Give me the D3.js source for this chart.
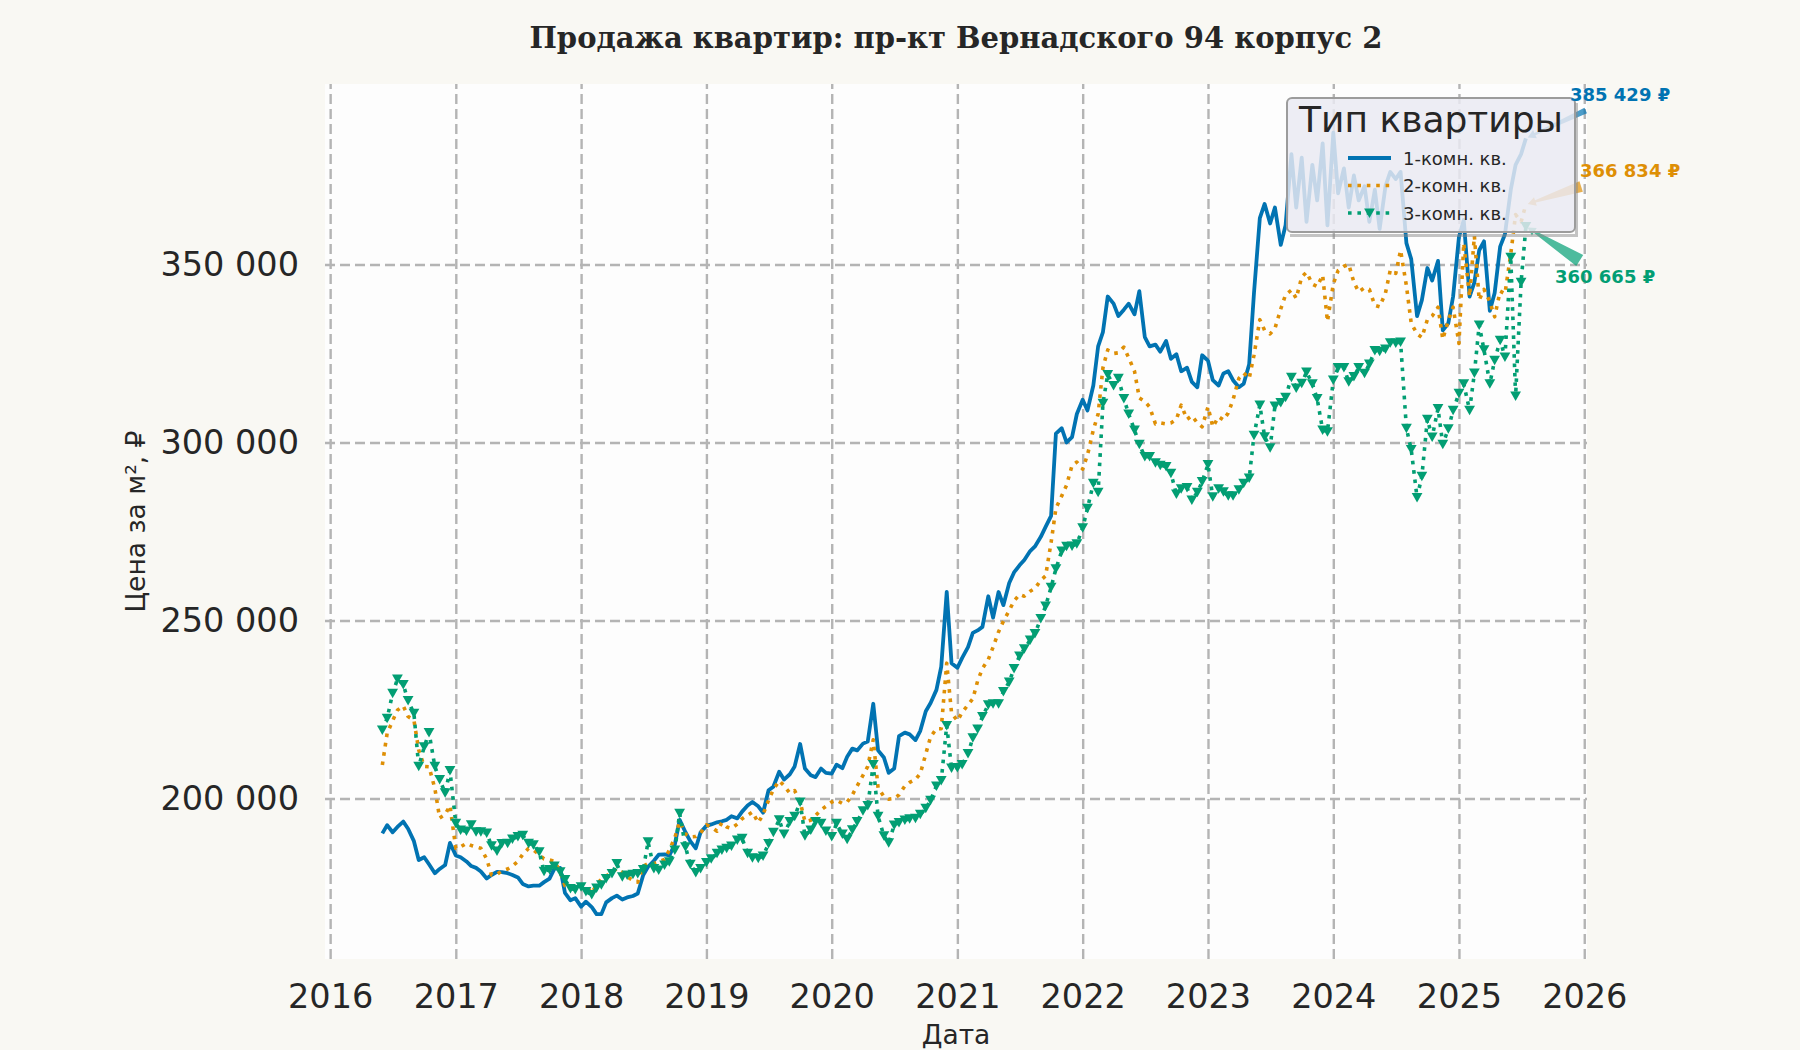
<!DOCTYPE html>
<html>
<head>
<meta charset="utf-8">
<script src="https://cdn.jsdelivr.net/npm/d3@7"></script>
<style>
  html, body { margin: 0; padding: 0; background: #f9f8f3; }
  svg { display: block; font-family: "DejaVu Sans", sans-serif; }
</style>
</head>
<body>
<div id="chart"></div>
<script>
// --- data, prices in thousand ₽ per m² ---

const dates = [
  "2016-06-01","2016-06-15","2016-07-01","2016-07-15","2016-08-01","2016-08-15","2016-09-01","2016-09-15","2016-10-01","2016-10-15","2016-11-01","2016-11-15","2016-12-01","2016-12-15",
  "2017-01-01","2017-01-15","2017-02-01","2017-02-15","2017-03-01","2017-03-15","2017-04-01","2017-04-15","2017-05-01","2017-05-15","2017-06-01","2017-06-15","2017-07-01","2017-07-15","2017-08-01","2017-08-15","2017-09-01","2017-09-15","2017-10-01","2017-10-15","2017-11-01","2017-11-15","2017-12-01","2017-12-15",
  "2018-01-01","2018-01-15","2018-02-01","2018-02-15","2018-03-01","2018-03-15","2018-04-01","2018-04-15","2018-05-01","2018-05-15","2018-06-01","2018-06-15","2018-07-01","2018-07-15","2018-08-01","2018-08-15","2018-09-01","2018-09-15","2018-10-01","2018-10-15","2018-11-01","2018-11-15","2018-12-01","2018-12-15",
  "2019-01-01","2019-01-15","2019-02-01","2019-02-15","2019-03-01","2019-03-15","2019-04-01","2019-04-15","2019-05-01","2019-05-15","2019-06-01","2019-06-15","2019-07-01","2019-07-15","2019-08-01","2019-08-15","2019-09-01","2019-09-15","2019-10-01","2019-10-15","2019-11-01","2019-11-15","2019-12-01","2019-12-15",
  "2020-01-01","2020-01-15","2020-02-01","2020-02-15","2020-03-01","2020-03-15","2020-04-01","2020-04-15","2020-05-01","2020-05-15","2020-06-01","2020-06-15","2020-07-01","2020-07-15","2020-08-01","2020-08-15","2020-09-01","2020-09-15","2020-10-01","2020-10-15","2020-11-01","2020-11-15","2020-12-01","2020-12-15",
  "2021-01-01","2021-01-15","2021-02-01","2021-02-15","2021-03-01","2021-03-15","2021-04-01","2021-04-15","2021-05-01","2021-05-15","2021-06-01","2021-06-15","2021-07-01","2021-07-15","2021-08-01","2021-08-15","2021-09-01","2021-09-15","2021-10-01","2021-10-15","2021-11-01","2021-11-15","2021-12-01","2021-12-15",
  "2022-01-01","2022-01-15","2022-02-01","2022-02-15","2022-03-01","2022-03-15","2022-04-01","2022-04-15","2022-05-01","2022-05-15","2022-06-01","2022-06-15","2022-07-01","2022-07-15","2022-08-01","2022-08-15","2022-09-01","2022-09-15","2022-10-01","2022-10-15","2022-11-01","2022-11-15","2022-12-01","2022-12-15",
  "2023-01-01","2023-01-15","2023-02-01","2023-02-15","2023-03-01","2023-03-15","2023-04-01","2023-04-15","2023-05-01","2023-05-15","2023-06-01","2023-06-15","2023-07-01","2023-07-15","2023-08-01","2023-08-15","2023-09-01","2023-09-15","2023-10-01","2023-10-15","2023-11-01","2023-11-15","2023-12-01","2023-12-15",
  "2024-01-01","2024-01-15","2024-02-01","2024-02-15","2024-03-01","2024-03-15","2024-04-01","2024-04-15","2024-05-01","2024-05-15","2024-06-01","2024-06-15","2024-07-01","2024-07-15","2024-08-01","2024-08-15","2024-09-01","2024-09-15","2024-10-01","2024-10-15","2024-11-01","2024-11-15","2024-12-01","2024-12-15",
  "2025-01-01","2025-01-15","2025-02-01","2025-02-15","2025-03-01","2025-03-15","2025-04-01","2025-04-15","2025-05-01","2025-05-15","2025-06-01","2025-06-15","2025-07-01","2025-07-15"
];

const oneRoomK = [
  190.2, 192.5, 190.5, 192, 193.5, 191.5, 188, 182.7, 183.5, 181.5, 179, 180.2, 181.3, 187.5,
  184, 183.5, 182.3, 181, 180.5, 179.5, 177.5, 178.5, 179.4, 179.3, 179, 178.5, 177.8, 176, 175.3, 175.5, 175.5, 176.5, 177.5, 180.2, 180.5, 173.5, 171.4, 172,
  169.6, 171, 169.5, 167.5, 167.5, 170.8, 172, 172.7, 171.6, 172.2, 172.6, 173.3, 178.5, 180.8, 182.5, 184.2, 184.3, 184, 187, 194, 190.5, 188, 186, 190.5,
  192.3, 192.7, 193.3, 193.6, 194, 195, 194.4, 196.3, 198, 199, 197.8, 196, 202.3, 203.3, 207.5, 205.3, 206.8, 209, 215.3, 208.4, 206.5, 206, 208.4, 207.2,
  207, 209.5, 208.5, 211.7, 214, 213.5, 215.4, 216, 226.6, 213.5, 211.5, 207.2, 208.4, 217.5, 218.5, 218, 216.4, 219, 224.5, 226.8, 230.5, 237, 258, 238,
  236.7, 239.5, 242.5, 246.5, 247.2, 248.2, 256.8, 250.8, 258, 254.3, 260.5, 263.5, 265.5, 267, 269.5, 270.8, 273.5, 276.3, 279.4, 302.5, 304, 300, 301.5, 308,
  312, 309, 316, 327, 331, 341, 339, 335.5, 337.3, 339, 336, 342.5, 329.6, 327, 327.5, 325.5, 328.5, 323.5, 324.8, 320, 321, 317, 315.5, 324.5,
  323, 317.5, 316, 319.4, 320, 317.5, 315.5, 316.5, 322, 342, 363, 367, 361.5, 366, 355.5, 361, 381, 366, 380, 362, 378, 368, 384, 361,
  387, 370, 377, 366, 375, 368, 372, 362, 371, 360, 372, 376, 374, 376, 356, 351.5, 335.5, 340, 349, 345.5, 351, 331.5, 333.5, 341,
  357.7, 362.5, 341, 345, 354, 356.5, 337, 342, 355, 358.5, 371, 378, 381, 385.429
];

const twoRoomK = [
  209.4, 218.3, 221.8, 224.8, 226, 223, 222, 213.6, 209, 208.9, 202.8, 194.5, 195.5, 198,
  186, 186.4, 187.4, 186.8, 186.4, 186, 183, 178.5, 178.7, 179.6, 180.2, 181, 182.3, 184.3, 186, 185.5, 184.2, 183, 182.7, 182.4, 179.5, 175.5, 175.2, 174.8,
  174.7, 175.5, 173.5, 175.7, 177.4, 178.2, 179.3, 180.3, 179.2, 178, 177, 176.5, 181, 181.7, 181.7, 182.2, 182.9, 185.5, 189, 193.5, 190, 189.2, 189.3, 190.3,
  192.6, 192, 190.8, 193.2, 192, 191.6, 192.8, 194.3, 195.3, 196.2, 193.2, 195.5, 199.5, 202.5, 205, 203.6, 201.5, 202.2, 199.1, 193.5, 193.9, 195.2, 196.8, 197.8,
  199, 199.5, 198.6, 199, 201, 203.5, 206.5, 209, 216.5, 203, 200.5, 199.8, 200, 201, 203.5, 204.5, 205.3, 207, 212.5, 217.3, 219.6, 219.6, 238, 224,
  221.8, 224.2, 226.3, 228, 233, 236.5, 239, 242.5, 246.8, 249.8, 252.8, 255.5, 257.3, 256.8, 258.2, 259, 261.3, 262.5, 271.9, 281.5, 285, 288, 293.5, 294.5,
  292.5, 296.5, 303.5, 308, 321, 326, 325, 325.2, 326.8, 323.8, 320, 312.5, 311.5, 310, 305.2, 305.5, 305.2, 305.5, 306.5, 310.5, 306.5, 307.5, 305.5, 304.4,
  310, 304.4, 307.2, 306.3, 308.3, 312, 318, 319.5, 318, 324.5, 334.5, 331.5, 330.5, 332, 337.5, 341.5, 342.8, 340.5, 346.5, 347.8, 344.5, 343.8, 347, 334,
  344.5, 348.3, 349.5, 350, 345, 342.3, 343.5, 343, 338.5, 338.1, 342, 348.4, 347.5, 354, 344, 333.5, 330.5, 329.5, 334.5, 335.5, 338, 329, 334.3, 338,
  327.8, 356, 341, 358, 340, 343, 339.5, 335.3, 342.5, 341.8, 353, 364, 362, 366.834
];

const threeRoomK = [
  219.2, 222.5, 229.5, 233.5, 232, 227.5, 223.9, 209, 214.5, 218.5, 209, 205.3, 201.6, 207.8,
  193, 191.1, 190.8, 192.6, 190.6, 190.6, 190.3, 186.7, 185.2, 187.3, 187.4, 188.6, 189.3, 189.6, 187.4, 187, 185, 179.5, 180, 181, 179.4, 177.2, 174.7, 174.4,
  175.2, 173.8, 173, 174.8, 175.7, 177.5, 178.9, 181.7, 178, 178.5, 178.7, 178.9, 180, 187.8, 180.3, 179.9, 181.3, 182.2, 185.5, 195.8, 186.4, 181.5, 179.2, 180.3,
  182, 183, 184.6, 185.5, 186, 186.6, 188.3, 188.8, 184.6, 183.3, 183.2, 183.8, 187.3, 190.5, 194, 190, 193.5, 195, 199, 189.5, 191.1, 193.5, 193, 190.8,
  189.3, 193, 190, 188.5, 191.2, 193.5, 196.5, 198, 209.5, 195, 189.5, 187.5, 192.5, 193.2, 193.9, 194.3, 194.4, 195.5, 197.2, 199.5, 203.5, 205, 220.5, 208.5,
  208.7, 209.5, 212.6, 217, 219.5, 223, 226.3, 226.6, 226.6, 230, 232.7, 236.5, 240, 242, 244.5, 246.3, 250.5, 254, 259.3, 264.5, 269.5, 270.8, 270.9, 271.5,
  276, 281.5, 288.5, 286, 311, 319.1, 316, 318, 312.3, 308, 303.5, 299.5, 296, 296, 294.3, 293.6, 293.2, 291.3, 285.5, 287, 287.3, 283.8, 286, 289,
  293.8, 284.7, 287, 286.1, 285, 285, 286.7, 288.5, 290, 302, 310.5, 301.6, 298.5, 310.2, 311.2, 312.7, 318.3, 315.3, 316.6, 319.8, 316.5, 312.3, 303.5, 303,
  317.5, 321, 321, 317, 318.5, 321, 319.4, 322, 325.8, 325.6, 326.2, 328, 327.9, 328.2, 304, 298, 284.5, 290.5, 306.5, 301.5, 309.5, 299.5, 303.8, 309,
  313.8, 316.5, 309, 319.5, 333, 326, 316.5, 323.1, 328.7, 324, 352, 313, 345, 360.665
];

const seriesNames = ["1-комн. кв.", "2-комн. кв.", "3-комн. кв."];
const yearTicks = [2016, 2017, 2018, 2019, 2020, 2021, 2022, 2023, 2024, 2025, 2026];
const priceTicks = [200000, 250000, 300000, 350000];

// --- layout ---
const W = 1800, H = 1050;
const plot = { left: 325, right: 1587, top: 84, bottom: 959 };
const colors = ["#0173b2", "#de8f05", "#029e73"];
const textColor = "#262626";

const parseDate = d3.utcParse("%Y-%m-%d");
const xDates = dates.map(parseDate);

const series = [oneRoomK, twoRoomK, threeRoomK].map((vals, i) => ({
  name: seriesNames[i],
  color: colors[i],
  values: vals.map(v => v * 1000)
}));

const svg = d3.select("#chart").append("svg")
    .attr("width", W)
    .attr("height", H);

svg.append("rect").attr("width", W).attr("height", H).attr("fill", "#f9f8f3");

const x = d3.scaleUtc()
    .domain([parseDate("2015-12-17"), parseDate("2026-01-09")])
    .range([plot.left, plot.right]);

const y = d3.scaleLinear()
    .domain([154900, 400700])
    .range([plot.bottom, plot.top]);

const plotW = plot.right - plot.left;
const plotH = plot.bottom - plot.top;

svg.append("rect")
    .attr("x", plot.left).attr("y", plot.top)
    .attr("width", plotW).attr("height", plotH)
    .attr("fill", "#fdfdfd");

const yearDates = yearTicks.map(yr => new Date(Date.UTC(yr, 0, 1)));
const fmtPrice = d3.formatLocale({ decimal: ",", thousands: " ", grouping: [3], currency: ["", ""] }).format(",d");

// grid
const gridX = svg.append("g")
    .attr("transform", `translate(0,${plot.bottom})`)
    .call(d3.axisBottom(x).tickValues(yearDates).tickSize(-plotH).tickFormat(""));
const gridY = svg.append("g")
    .attr("transform", `translate(${plot.left},0)`)
    .call(d3.axisLeft(y).tickValues(priceTicks).tickSize(-plotW).tickFormat(""));
[gridX, gridY].forEach(g => {
  g.select(".domain").remove();
  g.selectAll("line")
      .attr("stroke", "#b4b4b4")
      .attr("stroke-width", 2.4)
      .attr("stroke-dasharray", "10,5");
});

// tick labels
const xAxis = svg.append("g")
    .attr("transform", `translate(0,${plot.bottom})`)
    .call(d3.axisBottom(x).tickValues(yearDates).tickSize(0).tickPadding(25).tickFormat(d3.utcFormat("%Y")));
const yAxis = svg.append("g")
    .attr("transform", `translate(${plot.left},0)`)
    .call(d3.axisLeft(y).tickValues(priceTicks).tickSize(0).tickPadding(26).tickFormat(fmtPrice));
[xAxis, yAxis].forEach(g => {
  g.select(".domain").remove();
  g.selectAll("text")
      .attr("fill", textColor)
      .style("font-family", "'DejaVu Sans', sans-serif")
      .style("font-size", "33.5px");
});

// lines
const line = d3.line()
    .x((d, i) => x(xDates[i]))
    .y(d => y(d));

const lineStyles = [
  { width: 3.8, dash: null },
  { width: 3.6, dash: "3.6,5.8" },
  { width: 3.6, dash: "3.6,5.8" }
];

const triangle = "M-5.4,-4.6L5.4,-4.6L0,4.9Z";

series.forEach((s, i) => {
  svg.append("path")
      .datum(s.values)
      .attr("fill", "none")
      .attr("stroke", s.color)
      .attr("stroke-width", lineStyles[i].width)
      .attr("stroke-linejoin", "round")
      .attr("stroke-dasharray", lineStyles[i].dash)
      .attr("d", line);
  if (i === 2) {
    svg.append("g").selectAll("path")
        .data(s.values)
        .join("path")
        .attr("d", triangle)
        .attr("fill", s.color)
        .attr("transform", (d, j) => `translate(${x(xDates[j])},${y(d)})`);
  }
});

// end-value annotations (text placement, arrows towards the last point)
const lastIdx = dates.length - 1;
const annotPos = [
  { x: 1570, y: 101 },
  { x: 1580, y: 177 },
  { x: 1555, y: 283 }
];
const arrowTail = [6, 11, 13];

const annotLayer = svg.append("g");
const arrowLayer = svg.append("g");

series.forEach((s, i) => {
  const v = s.values[lastIdx];
  const t = annotLayer.append("text")
      .attr("x", annotPos[i].x)
      .attr("y", annotPos[i].y)
      .attr("fill", s.color)
      .style("font-weight", "bold")
      .style("font-size", "18px")
      .text(fmtPrice(Math.round(v)) + " ₽");
  const b = t.node().getBBox();
  const cx = b.x + b.width / 2, cy = b.y + b.height / 2;
  const px = x(xDates[lastIdx]), py = y(v);
  const dx = px - cx, dy = py - cy;
  const L = Math.hypot(dx, dy);
  const ux = dx / L, uy = dy / L;
  const hw = b.width / 2 + 5.5, hh = b.height / 2 + 5.5;
  const s0 = Math.min(Math.abs(ux) > 1e-6 ? hw / Math.abs(ux) : 1e9, Math.abs(uy) > 1e-6 ? hh / Math.abs(uy) : 1e9);
  const s1 = L - 2;
  const nx = -uy, ny = ux;
  const T = [cx + ux * s0, cy + uy * s0];
  const Hd = [cx + ux * s1, cy + uy * s1];
  const M = [Hd[0] - ux * 8, Hd[1] - uy * 8];
  const w = arrowTail[i] / 2;
  const pts = [
    [T[0] + nx * w, T[1] + ny * w],
    [M[0] + nx * 1.2, M[1] + ny * 1.2],
    [M[0] + nx * 4.5, M[1] + ny * 4.5],
    Hd,
    [M[0] - nx * 4.5, M[1] - ny * 4.5],
    [M[0] - nx * 1.2, M[1] - ny * 1.2],
    [T[0] - nx * w, T[1] - ny * w]
  ];
  arrowLayer.append("path")
      .attr("d", "M" + pts.map(p => p.join(",")).join("L") + "Z")
      .attr("fill", s.color)
      .attr("opacity", 0.7);
});

// legend
const leg = { x: 1287, y: 98, w: 288, h: 134 };
const legend = svg.append("g");
// shadow only along the lower and right edges
legend.append("path")
    .attr("d", `M${leg.x + leg.w},${leg.y + 5}h3v${leg.h}h-${leg.w}v-3h${leg.w - 3}Z`)
    .attr("fill", "#8a8a8a").attr("opacity", 0.5);
legend.append("rect")
    .attr("x", leg.x).attr("y", leg.y)
    .attr("width", leg.w).attr("height", leg.h)
    .attr("rx", 5)
    .attr("fill", "#eaeaf2").attr("fill-opacity", 0.84)
    .attr("stroke", "#9c9c9c").attr("stroke-width", 2);
legend.append("text")
    .attr("x", leg.x + leg.w / 2).attr("y", 132)
    .attr("text-anchor", "middle")
    .attr("fill", textColor)
    .style("font-size", "36px")
    .text("Тип квартиры");

const rowY = [158, 185.5, 213];
series.forEach((s, i) => {
  legend.append("line")
      .attr("x1", 1348).attr("x2", 1391)
      .attr("y1", rowY[i]).attr("y2", rowY[i])
      .attr("stroke", s.color)
      .attr("stroke-width", lineStyles[i].width)
      .attr("stroke-dasharray", lineStyles[i].dash);
  if (i === 2) {
    legend.append("path")
        .attr("d", triangle)
        .attr("fill", s.color)
        .attr("transform", `translate(1369.5,${rowY[i]})`);
  }
  legend.append("text")
      .attr("x", 1403).attr("y", rowY[i] + 6.5)
      .attr("fill", textColor)
      .style("font-size", "18px")
      .text(s.name);
});

// annotation text above the legend
annotLayer.raise();

// title and axis labels
svg.append("text")
    .attr("x", (plot.left + plot.right) / 2).attr("y", 48)
    .attr("text-anchor", "middle")
    .attr("fill", textColor)
    .style("font-family", "'DejaVu Serif', serif")
    .style("font-weight", "bold")
    .style("font-size", "29px")
    .text("Продажа квартир: пр-кт Вернадского 94 корпус 2");

svg.append("text")
    .attr("x", (plot.left + plot.right) / 2).attr("y", 1044)
    .attr("text-anchor", "middle")
    .attr("fill", textColor)
    .style("font-size", "26.5px")
    .text("Дата");

svg.append("text")
    .attr("transform", `translate(135,${(plot.top + plot.bottom) / 2}) rotate(-90)`)
    .attr("text-anchor", "middle")
    .attr("dominant-baseline", "central")
    .attr("fill", textColor)
    .style("font-size", "26.5px")
    .text("Цена за м², ₽");
</script>
</body>
</html>
